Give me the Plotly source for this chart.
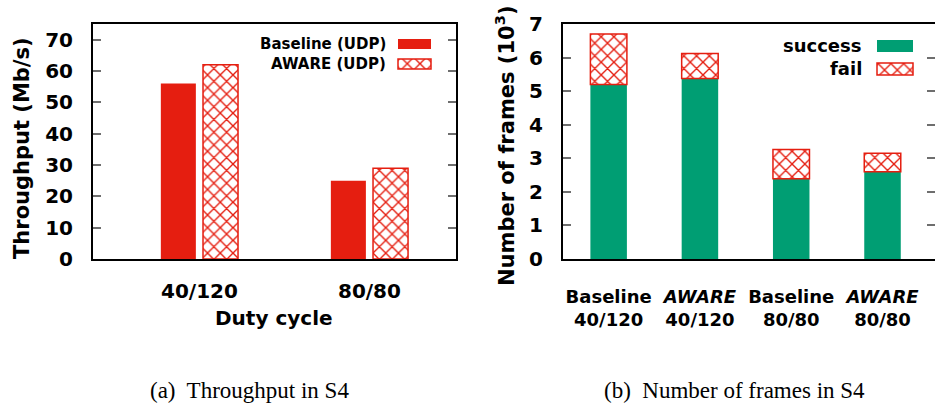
import plotly.graph_objects as go

# ---- data ----
duty_cycles = ["40/120", "80/80"]
throughput_baseline = [56, 25]   # Mb/s
throughput_aware = [62, 29]      # Mb/s

frame_groups = ["Baseline<br>40/120", "<i>AWARE</i><br>40/120",
                "Baseline<br>80/80", "<i>AWARE</i><br>80/80"]
frames_success = [5.2, 5.38, 2.39, 2.6]   # x10^3
frames_fail = [1.5, 0.74, 0.87, 0.55]     # x10^3

# ---- styling ----
W, H = 935, 406
RED = "#e51e10"
GREEN = "#009e73"
FONT = "DejaVu Sans"
TICK_GRAY = "#6e6e6e"
hatch = dict(shape="x", fgcolor=RED, fgopacity=1, bgcolor="white", size=9, solidity=0.28)


def px_x(v):
    return v / W


def px_y(v):
    return 1 - v / H


fig = go.Figure()

# (a) throughput: two bars per duty cycle
fig.add_trace(go.Bar(x=duty_cycles, y=throughput_baseline, name="Baseline (UDP)",
                     offset=-0.227, width=0.206,
                     marker=dict(color=RED, line=dict(width=0)),
                     xaxis="x", yaxis="y", showlegend=False))
fig.add_trace(go.Bar(x=duty_cycles, y=throughput_aware, name="AWARE (UDP)",
                     offset=0.021, width=0.206,
                     marker=dict(color="white", pattern=hatch, line=dict(color=RED, width=1.5)),
                     xaxis="x", yaxis="y", showlegend=False))

# (b) frames: success with fail stacked on top
fig.add_trace(go.Bar(x=frame_groups, y=frames_success, name="success", width=0.4,
                     marker=dict(color=GREEN, line=dict(width=0)),
                     xaxis="x2", yaxis="y2", showlegend=False))
fig.add_trace(go.Bar(x=frame_groups, y=frames_fail, base=frames_success, name="fail", width=0.4,
                     marker=dict(color="white", pattern=hatch, line=dict(color=RED, width=1.5)),
                     xaxis="x2", yaxis="y2", showlegend=False))

# legend keys drawn on a pixel-space overlay axis
key_specs = [
    # (x_center, y_top, width, height, style)
    (414.5, 39, 33, 10, "solid_red"),
    (414.5, 59, 33, 10, "hatch"),
    (895, 40, 36, 12, "solid_green"),
    (895, 63, 36, 12, "hatch"),
]
for xc, yt, w, h, style in key_specs:
    if style == "solid_red":
        mk = dict(color=RED, line=dict(width=0))
    elif style == "solid_green":
        mk = dict(color=GREEN, line=dict(width=0))
    else:
        mk = dict(color="white", pattern=hatch, line=dict(color=RED, width=1.5))
    fig.add_trace(go.Bar(x=[xc], y=[h], base=[yt], width=[w], marker=mk,
                         xaxis="x3", yaxis="y3", showlegend=False, hoverinfo="skip"))

# mirrored ticks on the right edge of panel (b)
fig.add_trace(go.Scatter(x=[frame_groups[0]], y=[0], mode="markers", marker=dict(opacity=0),
                         xaxis="x2", yaxis="y4", showlegend=False, hoverinfo="skip"))

tick_font = dict(family=FONT, size=20, color="black", weight="bold")
y_dom = [px_y(259), px_y(24)]

fig.update_layout(
    width=W, height=H,
    margin=dict(l=0, r=0, t=0, b=0),
    paper_bgcolor="white", plot_bgcolor="rgba(0,0,0,0)",
    barmode="overlay",
    xaxis=dict(domain=[px_x(93), px_x(456)], range=[-0.626, 1.509],
               showline=True, linecolor="black", linewidth=2, mirror=True,
               ticks="", showgrid=False, zeroline=False, automargin=False,
               tickfont=tick_font, ticklabelstandoff=13, anchor="y"),
    yaxis=dict(domain=y_dom, range=[0, 75], tickvals=[0, 10, 20, 30, 40, 50, 60, 70],
               showline=True, linecolor="black", linewidth=2, mirror="ticks",
               ticks="inside", ticklen=8, tickwidth=1.5, tickcolor=TICK_GRAY,
               showgrid=False, zeroline=False, automargin=False,
               tickfont=tick_font, ticklabelstandoff=14, anchor="x"),
    xaxis2=dict(domain=[px_x(563), 1.0], range=[-0.5, 3.575],
                showline=True, linecolor="black", linewidth=2, mirror=True,
                ticks="", showgrid=False, zeroline=False, automargin=False,
                tickfont=dict(family=FONT, size=18, color="black", weight="bold"),
                ticklabelstandoff=20, anchor="y2"),
    yaxis2=dict(domain=y_dom, range=[0, 7], tickvals=list(range(8)),
                showline=True, linecolor="black", linewidth=2, mirror=False,
                ticks="inside", ticklen=8, tickwidth=1.5, tickcolor=TICK_GRAY,
                showgrid=False, zeroline=False, automargin=False,
                tickfont=tick_font, ticklabelstandoff=14, anchor="x2"),
    yaxis4=dict(domain=y_dom, range=[0, 7], tickvals=list(range(8)), overlaying="y2",
                side="right", anchor="x2", showline=False, showticklabels=False,
                ticks="inside", ticklen=8, tickwidth=1.5, tickcolor=TICK_GRAY,
                showgrid=False, zeroline=False, automargin=False),
    xaxis3=dict(domain=[0, 1], range=[0, W], visible=False, anchor="y3"),
    yaxis3=dict(domain=[0, 1], range=[H, 0], visible=False, anchor="x3"),
)

legend_font = dict(family=FONT, size=15, color="black", weight="bold")
legend_font_b = dict(family=FONT, size=18, color="black", weight="bold")
title_font = dict(family=FONT, size=21, color="black", weight="bold")
cap_font = dict(family="Liberation Serif", size=23, color="black")

annotations = [
    dict(text="Baseline (UDP)", x=px_x(388), y=px_y(44), xanchor="right", yanchor="middle", font=legend_font),
    dict(text="AWARE (UDP)", x=px_x(388), y=px_y(64), xanchor="right", yanchor="middle", font=legend_font),
    dict(text="success", x=px_x(864), y=px_y(46), xanchor="right", yanchor="middle", font=legend_font_b),
    dict(text="fail", x=px_x(864), y=px_y(69), xanchor="right", yanchor="middle", font=legend_font_b),
    dict(text="Duty cycle", x=px_x(274), y=px_y(318), xanchor="center", yanchor="middle", font=tick_font),
    dict(text="Throughput (Mb/s)", x=px_x(22), y=px_y(148), textangle=-90,
         xanchor="center", yanchor="middle", font=title_font),
    dict(text="Number of frames (10<sup>3</sup>)", x=px_x(505), y=px_y(146), textangle=-90,
         xanchor="center", yanchor="middle", font=title_font),
    dict(text="(a)&nbsp; Throughput in S4", x=px_x(249), y=px_y(390), xanchor="center", yanchor="middle", font=cap_font),
    dict(text="(b)&nbsp; Number of frames in S4", x=px_x(734), y=px_y(390), xanchor="center", yanchor="middle", font=cap_font),
]
for a in annotations:
    a.update(xref="paper", yref="paper", showarrow=False)
fig.update_layout(annotations=annotations)

fig.write_html("out.html")
